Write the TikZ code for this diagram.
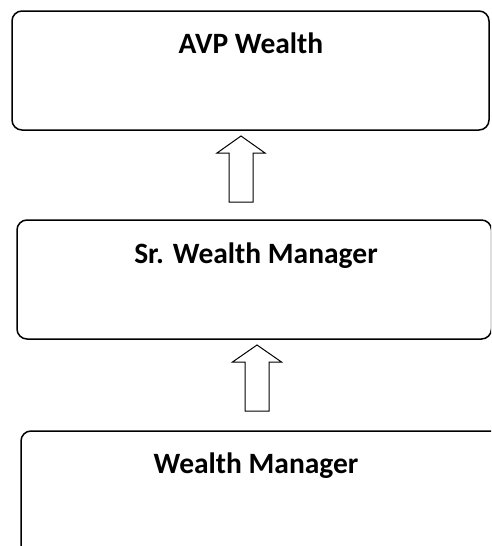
\documentclass[tikz,border=0pt]{standalone}
\usepackage{fontspec}
\setmainfont{Carlito}
\begin{document}
\begin{tikzpicture}[x=1pt,y=-1pt,
  box/.style={draw,line width=1.5pt,rounded corners=10pt,anchor=north west,inner sep=0pt,outer sep=0pt},
  lbl/.style={font=\fontsize{29.5}{35}\selectfont\bfseries,anchor=base,inner sep=0pt},
  uparrow/.style={draw,line width=1pt,fill=white,line join=miter}]
\useasboundingbox (0,0) rectangle (491,546);
\clip (0,0) rectangle (491,546);
\fill[white] (0,0) rectangle (491,546);
\node[box,minimum width=477pt,minimum height=119pt] (b1) at (12,11) {};
\node[box,minimum width=474.5pt,minimum height=119pt] (b2) at (17,220) {};
\node[box,minimum width=490pt,minimum height=140pt] (b3) at (21,431) {};
\node[lbl] (t1) at (251,53) {AVP Wealth};
\node[lbl] (t2) at (256,263) {Sr. Wealth Manager};
\node[lbl] (t3) at (256,473) {Wealth Manager};
\coordinate (a1) at (241,136);
\coordinate (a2) at (257,345);
\draw[uparrow] (a1) -- ++(24,17) -- ++(-12,0) -- ++(0,49) -- ++(-24,0) -- ++(0,-49) -- ++(-12,0) -- cycle;
\draw[uparrow] (a2) -- ++(24.5,17) -- ++(-12.5,0) -- ++(0,49) -- ++(-24,0) -- ++(0,-49) -- ++(-12.5,0) -- cycle;
\end{tikzpicture}
\end{document}
